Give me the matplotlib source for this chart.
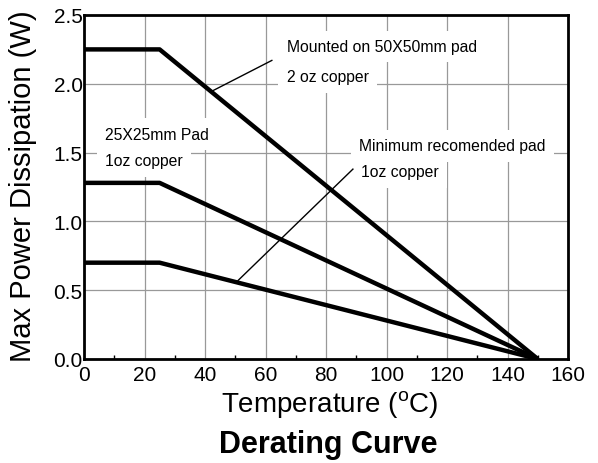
import numpy as np
import matplotlib
matplotlib.use('Agg')
import matplotlib.pyplot as plt
from matplotlib.ticker import MultipleLocator

plt.rcParams['font.family'] = ['Liberation Sans', 'DejaVu Sans']
plt.rcParams['mathtext.fontset'] = 'custom'
plt.rcParams['mathtext.rm'] = 'Liberation Sans'

# derating curves: flat up to 25 C, then linear to zero at 150 C
temp = [0, 25, 150]
p_50x50 = [2.25, 2.25, 0.0]
p_25x25 = [1.28, 1.28, 0.0]
p_min = [0.70, 0.70, 0.0]

x_ticks = [0, 20, 40, 60, 80, 100, 120, 140, 160]
y_ticks = [0.0, 0.5, 1.0, 1.5, 2.0, 2.5]

fig = plt.figure(figsize=(5.98, 4.64), dpi=100)
ax = fig.add_axes([84 / 598, 104 / 464, 484 / 598, 344 / 464])

for y in (p_50x50, p_25x25, p_min):
    ax.plot(temp, y, color='black', lw=3.2, solid_capstyle='butt', zorder=4)

ax.set_xlim(0, 160)
ax.set_ylim(0, 2.5)
ax.set_xticks(x_ticks)
ax.set_yticks(y_ticks)
ax.set_yticklabels(['%.1f' % v for v in y_ticks])
ax.xaxis.set_minor_locator(MultipleLocator(10))
ax.tick_params(axis='both', which='major', labelsize=15, length=0, pad=1)
ax.tick_params(axis='x', which='major', pad=4)
ax.tick_params(axis='x', which='minor', direction='in', length=3, width=1)
ax.grid(True, color='#999999', lw=0.9, zorder=1)
for s in ax.spines.values():
    s.set_linewidth(2)
    s.set_zorder(5)

box = dict(facecolor='white', edgecolor='none', pad=6)
fs = 11.3
ax.text(67, 2.27, 'Mounted on 50X50mm pad', fontsize=fs, va='center', bbox=box, zorder=3)
ax.text(67, 2.05, '2 oz copper', fontsize=fs, va='center', bbox=box, zorder=3)
ax.text(7, 1.635, '25X25mm Pad', fontsize=fs, va='center', bbox=box, zorder=3)
ax.text(7, 1.44, '1oz copper', fontsize=fs, va='center', bbox=box, zorder=3)
ax.text(91, 1.55, 'Minimum recomended pad', fontsize=fs, va='center', bbox=box, zorder=3)
ax.text(91.5, 1.36, '1oz copper', fontsize=fs, va='center', bbox=box, zorder=3)

# leader lines
ax.plot([42.6, 62.1], [1.95, 2.17], color='black', lw=1, zorder=4)
ax.plot([50.9, 88.9], [0.57, 1.38], color='black', lw=1, zorder=4)

fig.text(23 / 598, 1 - 186 / 464, 'Max Power Dissipation (W)', fontsize=21,
         rotation=90, ha='center', va='center')
fig.text(330 / 598, 1 - 405 / 464, r'Temperature ($^{\mathrm{o}}$C)',
         fontsize=20, ha='center', va='center')
fig.text(328 / 598, 1 - 445 / 464, 'Derating Curve',
         fontsize=22, fontweight='bold', ha='center', va='center')

fig.savefig('out.png', dpi=100)
